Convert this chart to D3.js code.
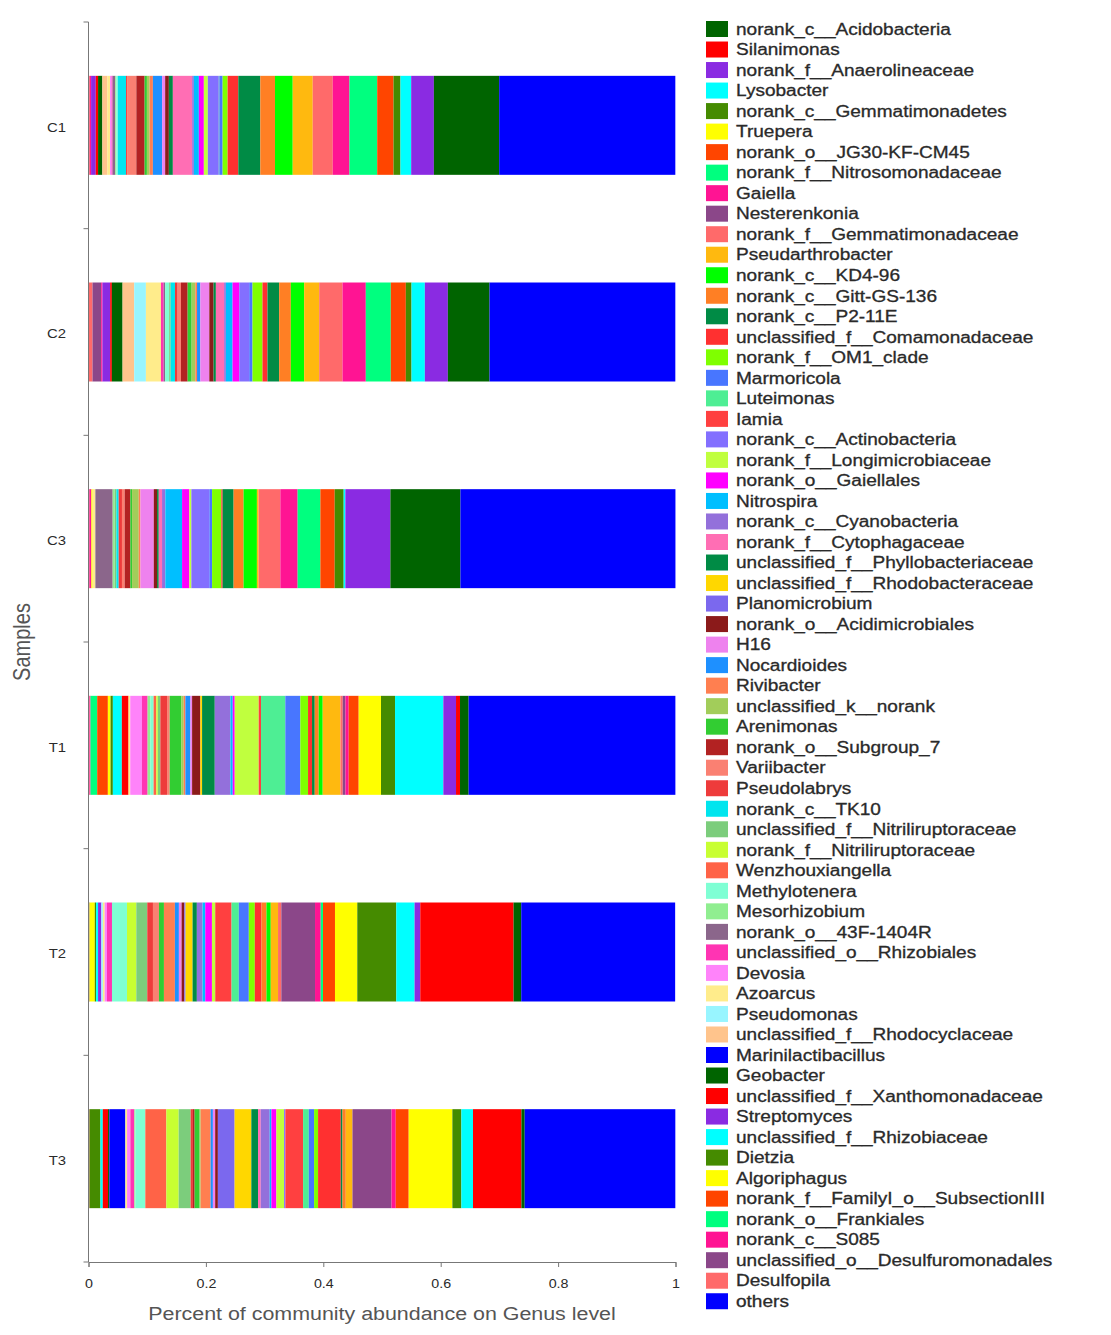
<!DOCTYPE html>
<html><head><meta charset="utf-8">
<script src="https://cdn.jsdelivr.net/npm/d3@7"></script>
<style>
html,body{margin:0;padding:0;background:#fff;}
svg{display:block;font-family:"Liberation Sans",Arial,sans-serif;}
</style></head>
<body><svg id="chart" width="1111" height="1335"></svg>
<script>
// ---- data (legend order, top to bottom) ----
const samples = ["C1","C2","C3","T1","T2","T3"];
const genera = ["norank_c__Acidobacteria","Silanimonas","norank_f__Anaerolineaceae","Lysobacter","norank_c__Gemmatimonadetes","Truepera","norank_o__JG30-KF-CM45","norank_f__Nitrosomonadaceae","Gaiella","Nesterenkonia","norank_f__Gemmatimonadaceae","Pseudarthrobacter","norank_c__KD4-96","norank_c__Gitt-GS-136","norank_c__P2-11E","unclassified_f__Comamonadaceae","norank_f__OM1_clade","Marmoricola","Luteimonas","Iamia","norank_c__Actinobacteria","norank_f__Longimicrobiaceae","norank_o__Gaiellales","Nitrospira","norank_c__Cyanobacteria","norank_f__Cytophagaceae","unclassified_f__Phyllobacteriaceae","unclassified_f__Rhodobacteraceae","Planomicrobium","norank_o__Acidimicrobiales","H16","Nocardioides","Rivibacter","unclassified_k__norank","Arenimonas","norank_o__Subgroup_7","Variibacter","Pseudolabrys","norank_c__TK10","unclassified_f__Nitriliruptoraceae","norank_f__Nitriliruptoraceae","Wenzhouxiangella","Methylotenera","Mesorhizobium","norank_o__43F-1404R","unclassified_o__Rhizobiales","Devosia","Azoarcus","Pseudomonas","unclassified_f__Rhodocyclaceae","Marinilactibacillus","Geobacter","unclassified_f__Xanthomonadaceae","Streptomyces","unclassified_f__Rhizobiaceae","Dietzia","Algoriphagus","norank_f__FamilyI_o__SubsectionIII","norank_o__Frankiales","norank_c__S085","unclassified_o__Desulfuromonadales","Desulfopila","others"];

// relative abundance per sample, same order as genera
const C1 = [0.1112,0,0.0387,0.0182,0.0119,0,0.0278,0.0472,0.0285,0,
 0.0341,0.0341,0.0302,0.0250,0.0375,0.0182,0.0085,0.0056,0.0009,0,
 0.0187,0.0068,0.0085,0.0085,0.0029,0.0329,0.0068,0,0,0.0063,
 0.0051,0.0158,0.0056,0.0046,0.0039,0.0141,0.0158,0.0017,0.0141,0,
 0,0,0.0026,0.0017,0.0046,0.0017,0.0026,0.0046,0,0.0085,
 0,0.0073,0.0039,0.0080,0,0,0,0,0,0.0022,
 0,0.0022,0.3001];
const C2 = [0.0710,0,0.0392,0.0227,0.0097,0,0.0256,0.0426,0.0397,0,
 0.0397,0.0256,0.0227,0.0199,0.0199,0.0085,0.0170,0.0056,0,0,
 0.0170,0,0.0114,0.0114,0.0029,0.0141,0.0039,0,0,0.0073,
 0.0153,0.0056,0.0029,0.0063,0.0068,0.0114,0.0056,0.0046,0.0073,0.0026,
 0,0,0.0068,0,0.0026,0.0046,0,0.0256,0.0199,0.0199,
 0,0.0182,0.0029,0.0131,0,0,0,0,0,0.0022,
 0.0148,0.0068,0.3165];
const C3 = [0.1193,0,0.0767,0.0029,0.0153,0,0.0244,0.0387,0.0295,0,
 0.0370,0.0029,0.0227,0.0170,0.0187,0.0022,0.0158,0.0046,0,0,
 0.0307,0.0034,0.0124,0.0285,0.0056,0.0056,0.0029,0,0,0.0056,
 0.0227,0,0.0029,0.0114,0.0029,0.0097,0.0046,0.0056,0.0039,0.0029,
 0,0,0,0.0034,0.0295,0,0,0.0046,0,0,
 0,0,0,0,0,0,0.0022,0,0,0.0034,
 0,0.0015,0.3663];
const T1 = [0.0147,0.0068,0.0216,0.0823,0.0239,0.0380,0.0170,0,0.0056,0.0046,
 0.0039,0.0302,0.0068,0.0068,0.0046,0.0068,0.0131,0.0256,0.0414,0.0039,
 0,0.0409,0.0034,0.0039,0.0267,0,0.0216,0.0029,0,0.0141,
 0.0029,0.0085,0.0029,0.0039,0.0199,0,0.0046,0.0114,0,0.0043,
 0.0026,0.0046,0.0056,0.0046,0,0.0097,0.0199,0.0029,0,0,
 0,0,0.0114,0,0.0153,0.0039,0.0046,0.0182,0.0114,0.0017,
 0,0.0017,0.3522];
const T2 = [0.0131,0.1589,0.0097,0.0312,0.0664,0.0380,0.0204,0.0039,0.0097,0.0574,
 0.0056,0.0124,0.0073,0.0085,0,0.0114,0.0102,0.0170,0.0124,0.0278,
 0,0.0056,0.0114,0.0046,0.0097,0,0.0073,0.0119,0.0022,0.0046,
 0.0046,0.0068,0.0187,0,0.0085,0,0.0102,0.0097,0,0.0187,
 0.0158,0,0.0256,0,0,0.0085,0.0039,0.0031,0.0026,0,
 0,0,0,0.0056,0.0034,0.0022,0.0090,0,0,0,
 0.0017,0,0.2622];
const T3 = [0.0056,0.0825,0,0.0198,0.0153,0.0744,0.0221,0,0.0073,0.0664,
 0,0.0114,0,0.0056,0.0029,0.0387,0.0068,0.0090,0.0097,0.0302,
 0.0022,0.0131,0.0085,0.0029,0.0153,0.0046,0.0114,0.0285,0.0285,0.0046,
 0.0039,0.0039,0.0170,0.0017,0.0085,0.0029,0,0.0039,0,0.0204,
 0.0210,0.0358,0.0170,0.0017,0,0.0068,0.0056,0.0029,0,0,
 0.0273,0.0022,0.0090,0,0.0039,0.0187,0,0,0,0,
 0,0.0017,0.2566];
const xTicks = [0,0.2,0.4,0.6,0.8,1];

// ---- styling ----
const palette51 = ["#006400","#FF0000","#8A2BE2","#00FFFF","#458B00","#FFFF00","#FF4500","#00FF7F","#FF1493","#8B4789",
 "#FF6A6A","#FFB90F","#00FF00","#FF7F24","#008B45","#FF3030","#7FFF00","#4876FF","#4EEE94","#FF4040",
 "#836FFF","#C0FF3E","#FF00FF","#00BFFF","#9370DB","#FF6EB4","#008B45","#FFD700","#7B68EE","#8B1A1A",
 "#EE82EE","#1E90FF","#FF7F50","#A2CD5A","#32CD32","#B22222","#FA8072","#EE3B3B","#00E5EE","#7CCD7C",
 "#C8FF32","#FF6347","#7FFFD4","#90EE90","#8B668B","#FF34B3","#FF83FA","#FFEC8B","#98F5FF","#FFC48C","#0000FF"];
const othersColor = "#0000FF";
const colorOf = (g,i) => g === "others" ? othersColor : palette51[i % palette51.length];
const SX = 1.19; // horizontal stretch of the original picture's text

const svg = d3.select("#chart");
const x = d3.scaleLinear().domain([0,1]).range([88.5,675.5]);
const y = d3.scaleBand().domain(samples).range([22,1262]).paddingInner(0.521).paddingOuter(0.2605);

const seriesBySample = {C1,C2,C3,T1,T2,T3};
const rows = samples.map(s => {
  const o = {sample:s};
  genera.forEach((g,i) => o[g] = seriesBySample[s][i]);
  return o;
});
// stacking order: last legend taxon first (left), ..., first taxon, then "others" at the right
const stackKeys = genera.slice(0, genera.length-1).reverse().concat(["others"]);
const stacked = d3.stack().keys(stackKeys)(rows);
const colorMap = new Map(genera.map((g,i)=>[g,colorOf(g,i)]));

svg.append("g").selectAll("g").data(stacked).join("g")
  .attr("fill", d => colorMap.get(d.key))
  .selectAll("rect").data(d => d).join("rect")
  .attr("x", d => x(d[0]))
  .attr("width", d => Math.max(0, x(d[1]) - x(d[0])))
  .attr("y", d => y(d.data.sample))
  .attr("height", y.bandwidth());

// ---- axes ----
const axisColor = "#777";
const textColor = "#2a2a2a";
svg.append("line").attr("x1",88.5).attr("x2",88.5).attr("y1",22).attr("y2",1262)
  .attr("stroke",axisColor).attr("stroke-width",1);
const bounds = samples.map(s => y(s) - y.step()*y.paddingInner()/2).concat([y.range()[1]]);
svg.append("g").selectAll("line").data(bounds).join("line")
  .attr("x1",83.5).attr("x2",88.5).attr("y1",d=>d).attr("y2",d=>d)
  .attr("stroke",axisColor);
svg.append("g").selectAll("text").data(samples).join("text")
  .attr("transform", d => `translate(66,${y(d)+y.bandwidth()/2 + 2}) scale(${SX},1)`)
  .attr("text-anchor","end").attr("dy","0.35em")
  .attr("font-size",12.5).attr("fill",textColor).text(d=>d);

const xAxis = svg.append("g").attr("transform","translate(0,1262)")
  .call(d3.axisBottom(x).tickValues(xTicks).tickSize(5).tickFormat(d => String(d)));
xAxis.select(".domain").attr("stroke",axisColor);
xAxis.selectAll(".tick line").attr("stroke",axisColor);
xAxis.selectAll(".tick text").attr("fill",textColor).attr("font-size",12)
  .attr("font-family","'Liberation Sans',Arial,sans-serif")
  .attr("y",17).attr("transform",`scale(${SX},1)`);

svg.append("text")
  .attr("transform",`translate(382,1320) scale(${SX},1)`)
  .attr("text-anchor","middle").attr("font-size",18).attr("fill","#555")
  .text("Percent of community abundance on Genus level");
svg.append("text")
  .attr("transform",`translate(30,642) scale(${SX},1) rotate(-90)`)
  .attr("text-anchor","middle").attr("font-size",20).attr("fill","#555")
  .text("Samples");

// ---- legend ----
const legendStep = 20.52;
const lg = svg.append("g").selectAll("g").data(genera).join("g")
  .attr("transform",(d,i)=>`translate(706,${29 + i*legendStep})`);
lg.append("rect").attr("x",0).attr("y",-8).attr("width",22).attr("height",16)
  .attr("fill",(d,i)=>colorOf(d,i));
lg.append("text").attr("transform",`translate(30,0) scale(${SX},1)`)
  .attr("dy","0.36em").attr("font-size",16).attr("fill",textColor)
  .attr("stroke",textColor).attr("stroke-width",0.3).text(d=>d);
</script>
</body></html>
